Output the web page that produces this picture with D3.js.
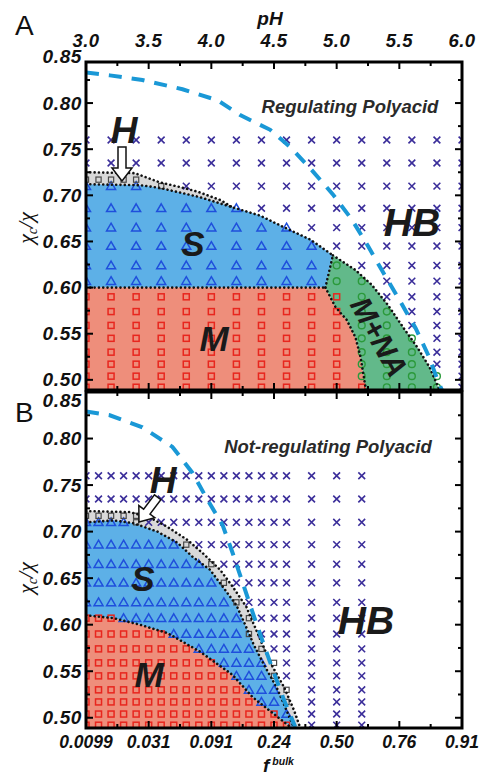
<!DOCTYPE html>
<html><head><meta charset="utf-8">
<script src="https://cdn.jsdelivr.net/npm/d3@7"></script>
<style>body{margin:0;background:#fff}svg{display:block}</style>
</head><body>
<svg id="c" width="479" height="777"></svg>
<script>
// ---------------- DATA ----------------
const pHTicks = [3.0, 3.5, 4.0, 4.5, 5.0, 5.5, 6.0];
const pHMinor = [3.25, 3.75, 4.25, 4.75, 5.25, 5.75];
const pHLabels = ["3.0", "3.5", "4.0", "4.5", "5.0", "5.5", "6.0"];
const fBulkLabels = ["0.0099", "0.031", "0.091", "0.24", "0.50", "0.76", "0.91"];
const chiTicks = [0.50, 0.55, 0.60, 0.65, 0.70, 0.75, 0.80, 0.85];
const chiMinor = [0.525, 0.575, 0.625, 0.675, 0.725, 0.775, 0.825];

// grid rows (chi_c/chi) shared by both panels
const chiRows = [0.760, 0.735, 0.710, 0.686, 0.665, 0.645, 0.624, 0.607, 0.590, 0.574, 0.559, 0.545, 0.530, 0.517, 0.504, 0.492];

// Panel A columns (pH) and phase grid: X=HB, S, M, N=M+NA, H
const colsA = [3.0, 3.2, 3.4, 3.6, 3.8, 4.0, 4.2, 4.4, 4.6, 4.8, 5.0, 5.2, 5.4, 5.6, 5.8, 6.0];
const gridA = [
  "XXXXXXXXXXXXXXXX",
  "XXXXXXXXXXXXXXXX",
  "SSSHXXXXXXXXXXXX",
  "SSSSSSSXXXXXXXXX",
  "SSSSSSSSSXXXXXXX",
  "SSSSSSSSSSXXXXXX",
  "SSSSSSSSSSNXXXXX",
  "SSSSSSSSSSNNXXXX",
  "MMMMMMMMMMMNXXXX",
  "MMMMMMMMMMMNNXXX",
  "MMMMMMMMMMMNNXXX",
  "MMMMMMMMMMMNNNXX",
  "MMMMMMMMMMMNNNXX",
  "MMMMMMMMMMMNNNXX",
  "MMMMMMMMMMMNNNNX",
  "MMMMMMMMMMMMNNNX"
];
const hExtraA = [[3.0, 0.717], [3.1, 0.717], [3.2, 0.717], [3.3, 0.717], [3.4, 0.717]];

// Panel B columns (pH) and phase grid
const colsB = [3.0, 3.1, 3.2, 3.3, 3.4, 3.5, 3.6, 3.7, 3.8, 3.9, 4.0, 4.1, 4.2, 4.3, 4.4, 4.5, 4.6, 4.8, 5.0, 5.2];
const gridB = [
  "XXXXXXXXXXXXXXXXXXXX",
  "XXXXXXXXXXXXXXXXXXXX",
  "SSSSHXXXXXXXXXXXXXXX",
  "SSSSSSSSHXXXXXXXXXXX",
  "SSSSSSSSSSHXXXXXXXXX",
  "SSSSSSSSSSSHXXXXXXXX",
  "SSSSSSSSSSSSHXXXXXXX",
  "MMMSSSSSSSSSSHXXXXXX",
  "MMMMMMMSSSSSSHXXXXXX",
  "MMMMMMMMMSSSSSHXXXXX",
  "MMMMMMMMMMMSSSSHXXXX",
  "MMMMMMMMMMMMSSSHXXXX",
  "MMMMMMMMMMMMMSSSHXXX",
  "MMMMMMMMMMMMMMSSHXXX",
  "MMMMMMMMMMMMMMMMSXXX",
  "MMMMMMMMMMMMMMMMMXXX"
];
const hExtraB = [[3.0, 0.717], [3.1, 0.717], [3.2, 0.717], [3.3, 0.717], [3.4, 0.717]];

// Phase boundaries, panel A  [pH, chi_c/chi]
const dashA = [[3.0,0.833],[3.19,0.830],[3.45,0.825],[3.77,0.815],[4.05,0.803],[4.23,0.787],[4.47,0.771],[4.64,0.751],[4.81,0.726],[4.97,0.701],[5.12,0.674],[5.25,0.645],[5.36,0.619],[5.49,0.589],[5.63,0.556],[5.73,0.527],[5.81,0.498],[5.84,0.489]];
const sTopA = [[3.0,0.712],[3.43,0.711],[3.59,0.708],[3.91,0.698],[4.17,0.687],[4.39,0.678],[4.57,0.666],[4.79,0.652],[4.97,0.635]];
const hTopA = [[3.0,0.725],[3.39,0.724],[3.59,0.714],[3.75,0.709],[3.89,0.704],[4.07,0.695],[4.17,0.687]];
const smLineA = [[3.0,0.600],[4.91,0.600]];
const snLineA = [[4.91,0.600],[4.97,0.635]];
const mnA = [[4.91,0.600],[4.99,0.579],[5.08,0.565],[5.15,0.546],[5.19,0.525],[5.23,0.492],[5.235,0.489]];
const nOuterA = [[4.97,0.635],[5.15,0.619],[5.28,0.603],[5.41,0.581],[5.53,0.557],[5.64,0.536],[5.74,0.514],[5.82,0.489]];

// Phase boundaries, panel B
const dashB = [[3.0,0.829],[3.19,0.825],[3.45,0.812],[3.69,0.791],[3.85,0.763],[3.97,0.734],[4.09,0.707],[4.17,0.677],[4.25,0.645],[4.33,0.613],[4.42,0.578],[4.50,0.548],[4.58,0.519],[4.67,0.490]];
const sTopB = [[3.0,0.710],[3.22,0.712],[3.38,0.709],[3.57,0.700],[3.73,0.688],[3.85,0.673],[3.99,0.659],[4.09,0.641],[4.20,0.621],[4.27,0.600],[4.34,0.578],[4.42,0.557],[4.52,0.533],[4.60,0.508],[4.66,0.489]];
const hTopB = [[3.0,0.722],[3.35,0.721],[3.51,0.715],[3.65,0.705],[3.81,0.691],[3.93,0.677],[4.07,0.659],[4.17,0.641],[4.28,0.619],[4.34,0.600],[4.41,0.578],[4.48,0.557],[4.58,0.533],[4.66,0.508],[4.71,0.489]];
const mTopB = [[3.0,0.610],[3.22,0.607],[3.43,0.600],[3.65,0.591],[3.91,0.571],[4.17,0.546],[4.33,0.522],[4.49,0.505],[4.64,0.489]];

// ---------------- DRAW ----------------
const svg = d3.select("#c");
const FONT = '"Liberation Sans", Arial, Helvetica, sans-serif';
const COL = {S: "#5db0e7", M: "#ee8e7b", N: "#62b98a", H: "#d9d9d9"};

const x = d3.scaleLinear().domain([3, 6]).range([86, 462]);
const yA = d3.scaleLinear().domain([0.489, 0.8445]).range([390, 62]);
const yB = d3.scaleLinear().domain([0.489, 0.85]).range([728, 392]);

const defs = svg.append("defs");
function clipFor(id, y) {
  defs.append("clipPath").attr("id", id).append("rect")
    .attr("x", x(3)).attr("y", y.range()[1]).attr("width", x(6) - x(3)).attr("height", y.range()[0] - y.range()[1]);
}
clipFor("clipA", yA); clipFor("clipB", yB);

function marker(g, c, cx, cy) {
  if (c === "X") {
    const s = 3.4;
    g.append("path").attr("d", `M${cx-s},${cy-s}L${cx+s},${cy+s}M${cx-s},${cy+s}L${cx+s},${cy-s}`)
      .attr("stroke", "#3b2e9a").attr("stroke-width", 1.6).attr("fill", "none");
  } else if (c === "S") {
    g.append("path").attr("d", `M${cx},${cy-4.4}L${cx+4.5},${cy+3.3}L${cx-4.5},${cy+3.3}Z`)
      .attr("stroke", "#1f4fdc").attr("stroke-width", 1.5).attr("fill", "none");
  } else if (c === "M") {
    g.append("rect").attr("x", cx-3).attr("y", cy-3).attr("width", 6).attr("height", 6)
      .attr("stroke", "#e8261e").attr("stroke-width", 1.5).attr("fill", "none");
  } else if (c === "N") {
    g.append("circle").attr("cx", cx).attr("cy", cy).attr("r", 3.4)
      .attr("stroke", "#2b9a3b").attr("stroke-width", 1.4).attr("fill", "none");
  } else if (c === "H") {
    g.append("rect").attr("x", cx-2.6).attr("y", cy-2.6).attr("width", 5.2).attr("height", 5.2)
      .attr("stroke", "#4a4a4a").attr("stroke-width", 1.2).attr("fill", "none");
  }
}

function panel(cfg) {
  const y = cfg.y;
  const line = d3.line().x(d => x(d[0])).y(d => y(d[1]));
  const g = svg.append("g");
  const body = g.append("g").attr("clip-path", `url(#${cfg.clip})`);
  cfg.regions.forEach(r => body.append("path").attr("d", line(r.pts) + "Z").attr("fill", COL[r.c]).attr("stroke", "none"));
  const mk = body.append("g");
  const cells = chiRows.flatMap((v, i) => cfg.cols.map((p, j) => ({p, v, c: cfg.grid[i][j]})));
  cells.forEach(d => marker(mk, d.c, x(d.p), y(d.v)));
  cfg.hExtra.forEach(d => marker(mk, "H", x(d[0]), y(d[1])));
  cfg.dotted.forEach(pts => body.append("path").attr("d", line(pts)).attr("fill", "none")
    .attr("stroke", "#111").attr("stroke-width", 2.6).attr("stroke-linecap", "round").attr("stroke-dasharray", "0.01 4.3"));
  body.append("path").attr("d", line(cfg.dash)).attr("fill", "none")
    .attr("stroke", "#1a98d6").attr("stroke-width", 4).attr("stroke-dasharray", "13 10");
  cfg.labels.forEach(l => {
    g.append("text").attr("x", l.x).attr("y", l.y).attr("text-anchor", "middle")
      .attr("transform", l.rot ? `rotate(${l.rot},${l.x},${l.y})` : null)
      .attr("font-family", FONT).attr("font-weight", "bold").attr("font-style", "italic")
      .attr("font-size", l.size).attr("fill", "#1a1a1a").text(l.t);
  });
  const a = cfg.arrow;
  g.append("path").attr("d", `M0,0L-10,-13L-4,-13L-4,${-a.len}L4,${-a.len}L4,-13L10,-13Z`)
    .attr("transform", `translate(${a.x},${a.y}) rotate(${a.rot})`)
    .attr("fill", "#fff").attr("stroke", "#111").attr("stroke-width", 1.5);
  const [y0, y1] = y.range();
  g.append("rect").attr("x", x(3)).attr("y", y1).attr("width", x(6) - x(3)).attr("height", y0 - y1)
    .attr("fill", "none").attr("stroke", "#000").attr("stroke-width", 3);
  const tk = g.append("g").attr("stroke", "#000").attr("stroke-width", 2);
  chiTicks.filter(v => y(v) >= y1 - 0.5).forEach(v => {
    tk.append("line").attr("x1", x(3)).attr("x2", x(3) + 7).attr("y1", y(v)).attr("y2", y(v));
    tk.append("line").attr("x1", x(6)).attr("x2", x(6) - 7).attr("y1", y(v)).attr("y2", y(v));
  });
  chiMinor.forEach(v => {
    tk.append("line").attr("x1", x(3)).attr("x2", x(3) + 4).attr("y1", y(v)).attr("y2", y(v));
    tk.append("line").attr("x1", x(6)).attr("x2", x(6) - 4).attr("y1", y(v)).attr("y2", y(v));
  });
  pHTicks.forEach(p => {
    tk.append("line").attr("x1", x(p)).attr("x2", x(p)).attr("y1", y1).attr("y2", y1 + 7);
    tk.append("line").attr("x1", x(p)).attr("x2", x(p)).attr("y1", y0).attr("y2", y0 - 7);
  });
  pHMinor.forEach(p => {
    tk.append("line").attr("x1", x(p)).attr("x2", x(p)).attr("y1", y1).attr("y2", y1 + 4);
    tk.append("line").attr("x1", x(p)).attr("x2", x(p)).attr("y1", y0).attr("y2", y0 - 4);
  });
  chiTicks.forEach(v => {
    g.append("text").attr("x", 82).attr("y", Math.max(y(v), cfg.topLabelY) + 6.5).attr("text-anchor", "end")
      .attr("font-family", FONT).attr("font-weight", "bold").attr("font-style", "italic")
      .attr("font-size", 19).attr("letter-spacing", 0.6).attr("fill", "#111").text(d3.format(".2f")(v));
  });
  const t = g.append("text").attr("transform", `translate(33,${cfg.titleY}) rotate(-90)`)
    .attr("text-anchor", "middle").attr("font-family", '"Liberation Serif","DejaVu Serif",serif')
    .attr("font-style", "italic").attr("font-size", 22).attr("fill", "#111");
  t.append("tspan").text("χ");
  t.append("tspan").attr("font-size", 14).attr("dy", 4).text("c");
  t.append("tspan").attr("dy", -4).text("/χ");
  g.append("text").attr("x", 15).attr("y", cfg.letterY).attr("font-family", FONT)
    .attr("font-size", 28).attr("fill", "#111").text(cfg.letter);
  g.append("text").attr("x", cfg.title.x).attr("y", cfg.title.y).attr("text-anchor", "middle")
    .attr("font-family", FONT).attr("font-weight", "bold").attr("font-style", "italic")
    .attr("font-size", 18.5).attr("fill", "#2a2a2a").text(cfg.title.t);
}

panel({
  y: yA, clip: "clipA", cols: colsA, grid: gridA, hExtra: hExtraA, dash: dashA,
  regions: [
    {c: "H", pts: hTopA.concat(sTopA.filter(p => p[0] <= 4.17).reverse())},
    {c: "S", pts: smLineA.concat(snLineA.slice(1), sTopA.slice().reverse())},
    {c: "M", pts: [[3.0, 0.48], smLineA[0]].concat(mnA, [[5.235, 0.48]])},
    {c: "N", pts: [nOuterA[0]].concat(mnA, [[5.235, 0.48], [5.82, 0.48]], nOuterA.slice().reverse())}
  ],
  dotted: [hTopA, sTopA, smLineA, snLineA, mnA, nOuterA],
  labels: [
    {t: "H", x: 124, y: 143, size: 37},
    {t: "S", x: 193, y: 256, size: 35},
    {t: "M", x: 214, y: 351, size: 35},
    {t: "HB", x: 412, y: 236, size: 39},
    {t: "M+NA", x: 370, y: 342, size: 30, rot: 61}
  ],
  arrow: {x: 122, y: 181, len: 34, rot: 0},
  topLabelY: -1e9, titleY: 228, letter: "A", letterY: 35,
  title: {t: "Regulating Polyacid", x: 350, y: 113}
});

panel({
  y: yB, clip: "clipB", cols: colsB, grid: gridB, hExtra: hExtraB, dash: dashB,
  regions: [
    {c: "H", pts: hTopB.concat(sTopB.slice().reverse())},
    {c: "S", pts: sTopB.concat(mTopB.slice().reverse())},
    {c: "M", pts: [[3.0, 0.48]].concat(mTopB, [[4.64, 0.48]])}
  ],
  dotted: [hTopB, sTopB, mTopB],
  labels: [
    {t: "H", x: 163, y: 493, size: 37},
    {t: "S", x: 143, y: 591, size: 35},
    {t: "M", x: 149, y: 687, size: 35},
    {t: "HB", x: 366, y: 634, size: 39}
  ],
  arrow: {x: 139, y: 522, len: 31, rot: 37},
  topLabelY: 400, titleY: 578, letter: "B", letterY: 422,
  title: {t: "Not-regulating Polyacid", x: 328, y: 453}
});

const fontBI = sel => sel.attr("font-family", FONT).attr("font-weight", "bold").attr("font-style", "italic").attr("fill", "#111");
svg.append("g").selectAll("text").data(pHTicks).join("text")
  .attr("x", d => x(d)).attr("y", 47).attr("text-anchor", "middle").attr("font-size", 18.5).attr("letter-spacing", 0.5)
  .call(fontBI).text((d, i) => pHLabels[i]);
svg.append("text").attr("x", 270).attr("y", 25).attr("text-anchor", "middle").attr("font-size", 19)
  .call(fontBI).text("pH");

svg.append("g").selectAll("text").data(pHTicks).join("text")
  .attr("x", d => x(d)).attr("y", 748).attr("text-anchor", "middle").attr("font-size", 17.5)
  .call(fontBI).text((d, i) => fBulkLabels[i]);
const fb = svg.append("text").attr("x", 263).attr("y", 772).attr("font-size", 19).call(fontBI);
fb.append("tspan").text("f");
fb.append("tspan").attr("font-size", 10.5).attr("dx", 3).attr("dy", -7).text("bulk");
</script>
</body></html>
